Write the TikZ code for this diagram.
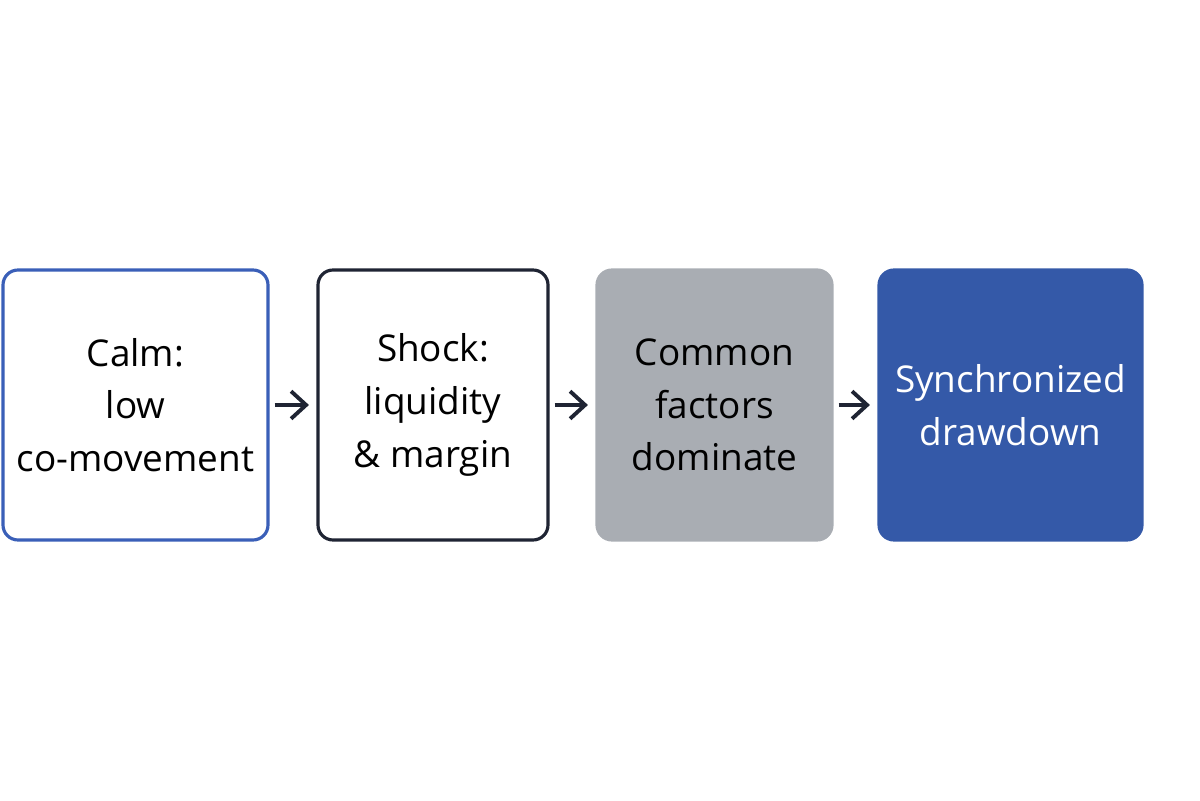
\documentclass[tikz,border=0pt]{standalone}
\usepackage{fontspec}
\setmainfont{Open Sans}
\usetikzlibrary{positioning,arrows.meta}
\definecolor{calmblue}{HTML}{3A5FB8}
\definecolor{darkline}{HTML}{1F2433}
\definecolor{greyfill}{HTML}{A9ADB3}
\definecolor{deepblue}{HTML}{3459A8}
\begin{document}
\begin{tikzpicture}[align=center,
    stage/.style={rounded corners=0.3cm, minimum height=5.4cm, line width=1.8pt,
      font=\fontsize{21}{30}\selectfont, inner sep=2pt},
    flow/.style={-{Straight Barb[length=3mm,width=5.5mm]}, line width=2.2pt, darkline,
      shorten <=0.1cm, shorten >=0.15cm}]
    \useasboundingbox (0,0) rectangle (24,16);

    \node [stage, draw=calmblue, fill=white, minimum width=5.3cm] (calm) at (2.71,7.9) {Calm:\\low\\co-movement};
    \node [stage, draw=darkline, fill=white, minimum width=4.6cm] (shock) at (8.66,7.9) {Shock:\\liquidity\\\& margin};
    \node [stage, draw=greyfill, fill=greyfill, minimum width=4.7cm] (common) at (14.29,7.9) {Common\\factors\\dominate};
    \node [stage, draw=deepblue, fill=deepblue, text=white, minimum width=5.26cm] (drawdown) at (20.21,7.9) {Synchronized\\drawdown};

    \draw[flow] (calm) -- (shock);
    \draw[flow] (shock) -- (common);
    \draw[flow] (common) -- (drawdown);
\end{tikzpicture}
\end{document}
